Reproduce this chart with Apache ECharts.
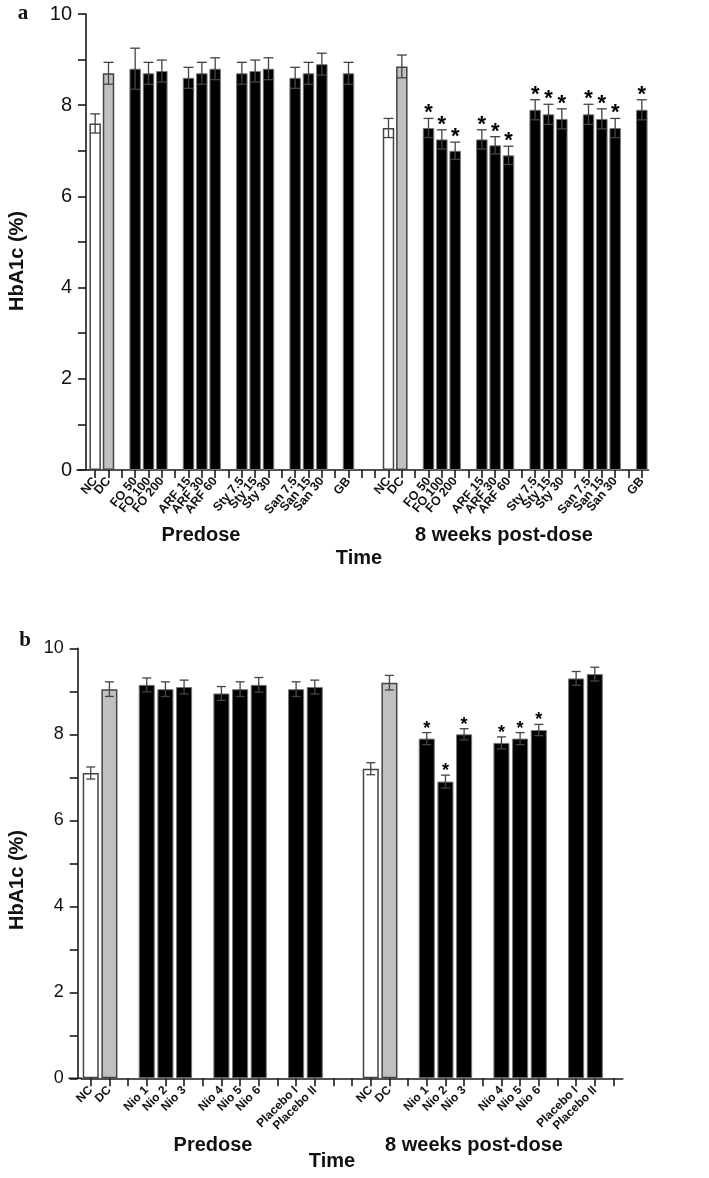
<!DOCTYPE html>
<html>
<head>
<meta charset="utf-8">
<script src="https://cdn.jsdelivr.net/npm/echarts@6/dist/echarts.min.js"></script>
<style>
html,body{margin:0;padding:0;background:#fff;}
#c{width:709px;height:1178px;}
</style>
</head>
<body>
<div id="c"></div>
<script>
// ---------- Panel a data ----------
const groupsA = [['NC','DC'],['FO 50','FO 100','FO 200'],['ARF 15','ARF 30','ARF 60'],['Sty 7.5','Sty 15','Sty 30'],['San 7.5','San 15','San 30'],['GB']];
const preA      = [7.6, 8.7, 8.8, 8.7, 8.75, 8.6, 8.7, 8.8, 8.7, 8.75, 8.8, 8.6, 8.7, 8.9, 8.7];
const preAErr   = [0.21,0.24,0.45,0.24,0.24,0.23,0.24,0.24,0.24,0.24,0.24,0.23,0.24,0.24,0.24];
const postA     = [7.5, 8.85, 7.5, 7.25, 7.0, 7.25, 7.12, 6.9, 7.9, 7.8, 7.7, 7.8, 7.7, 7.5, 7.9];
const postAErr  = [0.21,0.25,0.21,0.21,0.19,0.21,0.19,0.2,0.22,0.22,0.22,0.22,0.22,0.21,0.22];
const postAStar = [0,0,1,1,1,1,1,1,1,1,1,1,1,1,1];

// ---------- Panel b data ----------
const groupsB = [['NC','DC'],['Nio 1','Nio 2','Nio 3'],['Nio 4','Nio 5','Nio 6'],['Placebo I','Placebo II']];
const preB      = [7.1, 9.05, 9.15, 9.05, 9.1, 8.95, 9.05, 9.15, 9.05, 9.1];
const preBErr   = [0.14,0.17,0.16,0.17,0.16,0.16,0.17,0.17,0.17,0.16];
const postB     = [7.2, 9.2, 7.9, 6.9, 8.0, 7.8, 7.9, 8.1, 9.3, 9.4];
const postBErr  = [0.14,0.17,0.14,0.15,0.13,0.14,0.14,0.13,0.16,0.16];
const postBStar = [0,0,1,1,1,1,1,1,0,0];

const yTicks = [0, 2, 4, 6, 8, 10];
const periodLabels = ['Predose', '8 weeks post-dose'];
const FONT = "'Liberation Sans', Arial, Helvetica, sans-serif";

// build category slots: one empty slot between groups, two between periods
function buildSlots(groups, trailing) {
  const slots = [];
  for (let p = 0; p < 2; p++) {
    let k = 0;
    groups.forEach((g, gi) => {
      if (gi > 0) slots.push({label: ''});
      g.forEach(l => slots.push({label: l, p: p, k: k++}));
    });
    if (p === 0) { slots.push({label: ''}); slots.push({label: ''}); }
  }
  for (let t = 0; t < trailing; t++) slots.push({label: ''});
  return slots;
}
function colorOf(l) { return l === 'NC' ? '#ffffff' : (l === 'DC' ? '#c0c0c0' : '#000000'); }

const slotsA = buildSlots(groupsA, 0);
const slotsB = buildSlots(groupsB, 1);
const panels = [
  {slots: slotsA, vals: [preA, postA], errs: [preAErr, postAErr], stars: [null, postAStar], cap: 10, starSize: 22, starDy: 5,
   labelFont: 12.5, rotate: 50, margin: 9, yOffset: 2.5, ext: 11.5, yFont: 20},
  {slots: slotsB, vals: [preB, postB], errs: [preBErr, postBErr], stars: [null, postBStar], cap: 9, starSize: 18, starDy: 4,
   labelFont: 12, rotate: 45, margin: 10, yOffset: 3.7, ext: 12.4, yFont: 18}
];

const grids = [
  {left: 88.5, width: 560, top: 14, height: 456, outerBoundsMode: 'none', containLabel: false},
  {left: 81.4, width: 541.4, top: 648.3, height: 430, outerBoundsMode: 'none', containLabel: false}
];

const xAxis = [], yAxis = [], series = [];
panels.forEach((P, gi) => {
  xAxis.push({
    type: 'category', gridIndex: gi,
    data: P.slots.map((s, i) => String(i)),
    axisLine: {lineStyle: {color: '#1a1a1a', width: 1.6},
      symbol: ['rect', 'none'], symbolSize: [1.6, P.ext + 1], symbolOffset: [-P.ext / 2, 0]},
    axisTick: {show: true, interval: 0, alignWithLabel: true, length: 8, lineStyle: {color: '#1a1a1a', width: 1.6}},
    axisLabel: {interval: 0, rotate: P.rotate, margin: P.margin, fontFamily: FONT, fontWeight: 'bold', fontSize: P.labelFont, color: '#111',
      formatter: v => P.slots[+v].label},
    splitLine: {show: false}
  });
  yAxis.push({
    type: 'value', gridIndex: gi, offset: P.yOffset,
    min: yTicks[0], max: yTicks[yTicks.length - 1], interval: yTicks[1] - yTicks[0],
    axisLine: {show: true, lineStyle: {color: '#1a1a1a', width: 1.6}},
    axisTick: {show: true, length: 8, lineStyle: {color: '#1a1a1a', width: 1.6}},
    minorTick: {show: true, splitNumber: 2, length: 8, lineStyle: {color: '#1a1a1a', width: 1.6}},
    axisLabel: {margin: 14, fontFamily: FONT, fontSize: P.yFont, color: '#111'},
    splitLine: {show: false}
  });
  const barData = P.slots.map(s => s.label ? {
    value: P.vals[s.p][s.k],
    itemStyle: {color: colorOf(s.label), borderColor: s.label === 'NC' || s.label === 'DC' ? '#444' : '#777', borderWidth: s.label === 'NC' || s.label === 'DC' ? 1.5 : 1}
  } : '-');
  series.push({type: 'bar', xAxisIndex: gi, yAxisIndex: gi, data: barData, barWidth: '86%', silent: true, animation: false});
  const errData = [];
  P.slots.forEach((s, i) => {
    if (!s.label) return;
    const st = P.stars[s.p] ? P.stars[s.p][s.k] : 0;
    errData.push([i, P.vals[s.p][s.k], P.errs[s.p][s.k], st]);
  });
  series.push({
    type: 'custom', xAxisIndex: gi, yAxisIndex: gi, z: 5, silent: true, animation: false,
    dimensions: ['x', 'v', 'e', 's'], encode: {x: 0, y: 1},
    data: errData,
    renderItem: (params, api) => {
      const x = api.value(0), v = api.value(1), e = api.value(2), s = api.value(3);
      const t = api.coord([x, v + e]);
      const b = api.coord([x, v - e]);
      const h = P.cap / 2;
      const ls = {stroke: '#444', lineWidth: 1.3};
      const children = [
        {type: 'line', shape: {x1: t[0], y1: t[1], x2: b[0], y2: b[1]}, style: ls},
        {type: 'line', shape: {x1: t[0] - h, y1: t[1], x2: t[0] + h, y2: t[1]}, style: ls},
        {type: 'line', shape: {x1: b[0] - h, y1: b[1], x2: b[0] + h, y2: b[1]}, style: ls}
      ];
      if (s) children.push({type: 'text', x: t[0], y: t[1] - P.starDy,
        style: {text: '*', align: 'center', verticalAlign: 'middle', fontSize: P.starSize, fontWeight: 'bold', fontFamily: FONT, fill: '#000'}});
      return {type: 'group', children: children};
    }
  });
});

function txt(text, x, y, size, opts) {
  return Object.assign({type: 'text', x: x, y: y, silent: true,
    style: {text: text, align: 'center', verticalAlign: 'middle', fontSize: size, fontWeight: 'bold', fontFamily: FONT, fill: '#111'}}, opts || {});
}
const SERIF = "'Liberation Serif', 'Times New Roman', serif";
const graphic = [
  txt('a', 23, 14, 21, {style: {text: 'a', align: 'center', verticalAlign: 'middle', fontSize: 21, fontWeight: 'bold', fontFamily: SERIF, fill: '#111'}}),
  txt('b', 25, 641, 21, {style: {text: 'b', align: 'center', verticalAlign: 'middle', fontSize: 21, fontWeight: 'bold', fontFamily: SERIF, fill: '#111'}}),
  txt('HbA1c (%)', 17, 261, 20, {rotation: Math.PI / 2}),
  txt('HbA1c (%)', 17, 880, 20, {rotation: Math.PI / 2}),
  txt(periodLabels[0], 201, 535, 20),
  txt(periodLabels[1], 504, 535, 20),
  txt('Time', 359, 558, 20),
  txt(periodLabels[0], 213, 1145, 20),
  txt(periodLabels[1], 474, 1145, 20),
  txt('Time', 332, 1161, 20)
];

const chart = echarts.init(document.getElementById('c'), null, {renderer: 'canvas'});
chart.setOption({
  animation: false,
  backgroundColor: '#fff',
  grid: grids,
  xAxis: xAxis,
  yAxis: yAxis,
  series: series,
  graphic: graphic
});
</script>
</body>
</html>
